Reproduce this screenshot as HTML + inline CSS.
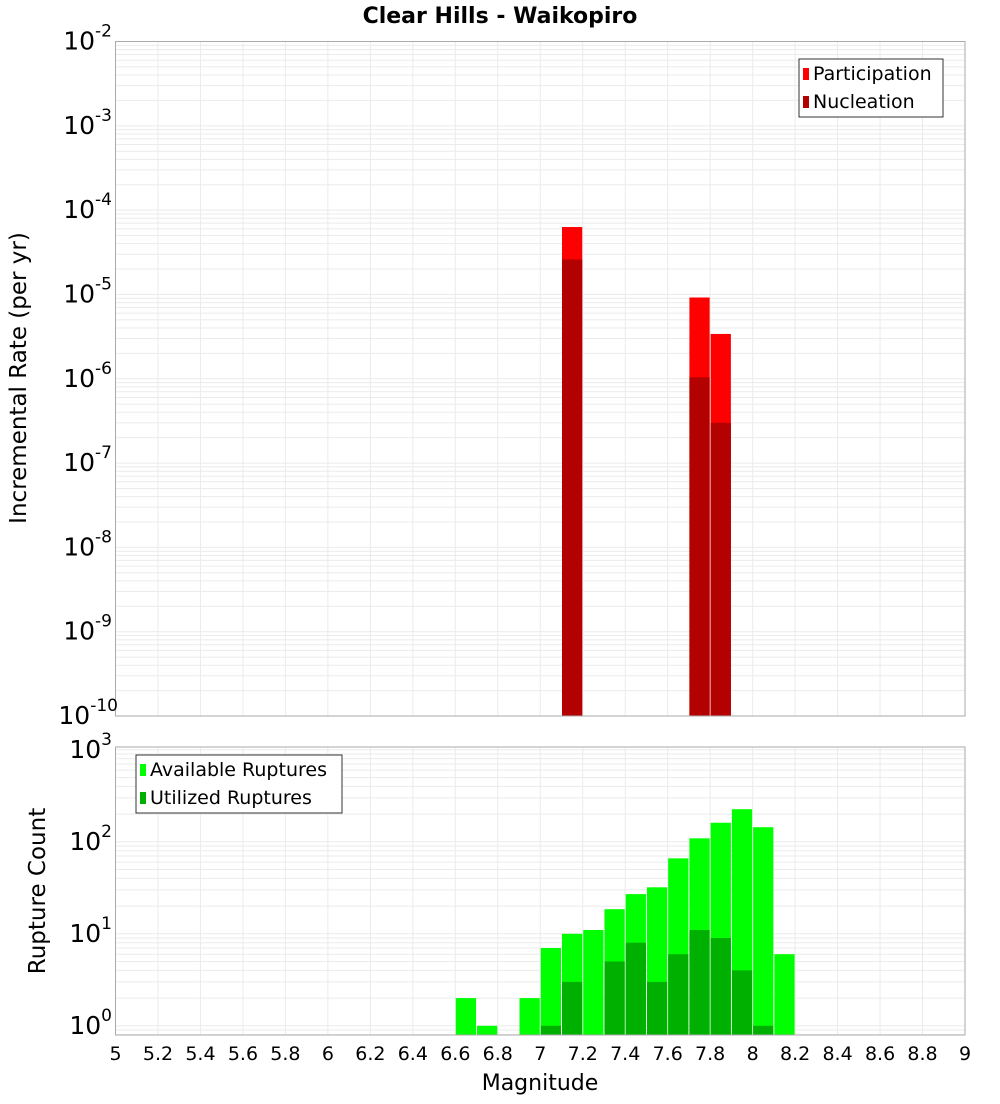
<!DOCTYPE html>
<html><head><meta charset="utf-8"><style>
body{margin:0;background:#fff;font-family:"DejaVu Sans","Liberation Sans",sans-serif}
</style></head><body>
<svg id="c" width="1000" height="1100" xmlns="http://www.w3.org/2000/svg" font-family="DejaVu Sans, Liberation Sans, sans-serif">
<text x="500" y="23" text-anchor="middle" font-size="22" font-weight="bold">Clear Hills - Waikopiro</text>
<text transform="translate(26,378) rotate(-90)" text-anchor="middle" font-size="23">Incremental Rate (per yr)</text>
<text transform="translate(45,891) rotate(-90)" text-anchor="middle" font-size="23">Rupture Count</text>
<text x="540" y="1090" text-anchor="middle" font-size="22">Magnitude</text>
<g id="top"></g><g id="bot"></g>
</svg>
<script>
const partMags=[7.15,7.75,7.85];
const partVals=[6.3e-5,9.2e-6,3.4e-6];
const nuclMags=[7.15,7.75,7.85];
const nuclVals=[2.6e-5,1.04e-6,3.0e-7];
const availMags=[6.65,6.75,6.95,7.05,7.15,7.25,7.35,7.45,7.55,7.65,7.75,7.85,7.95,8.05,8.15];
const availVals=[2,1,2,7,10,11,18.5,27,32,66,109,161,226,144,6];
const utilMags=[7.05,7.15,7.35,7.45,7.55,7.65,7.75,7.85,7.95,8.05];
const utilVals=[1,3,5,8,3,6,11,9,4,1];
const xTicks=["5","5.2","5.4","5.6","5.8","6","6.2","6.4","6.6","6.8","7","7.2","7.4","7.6","7.8","8","8.2","8.4","8.6","8.8","9"];
const NS="http://www.w3.org/2000/svg";
const L=115.5,R=965;
const xs=m=>L+(m-5)/4*(R-L);
function el(p,t,a){const e=document.createElementNS(NS,t);for(const k in a)e.setAttribute(k,a[k]);p.appendChild(e);return e;}
function panel(g,top,bot,lmin,lmax,name){
  const ys=v=>bot-(Math.log10(v)-lmin)/(lmax-lmin)*(bot-top);
  for(let i=0;i<=20;i++){const x=xs(5+i*0.2);const l=el(g,'line',{x1:x,x2:x,y1:top,y2:bot,stroke:'#ebebeb'});
    }
  for(let d=Math.floor(lmin);d<=Math.ceil(lmax);d++)for(let k=1;k<10;k++){const v=k*Math.pow(10,d);const lv=Math.log10(v);
    if(lv<lmin||lv>lmax)continue;const y=ys(v);const l=el(g,'line',{x1:L,x2:R,y1:y,y2:y,stroke:'#ebebeb'});
    }
  return ys;
}
function bars(g,ys,bot,mags,vals,fill,name){
  mags.forEach((m,i)=>{const x0=xs(m-0.05)+0.5,x1=xs(m+0.05)-0.5,y=ys(vals[i]);
    const r=el(g,'rect',{x:x0,y:y,width:x1-x0,height:bot-y,fill:fill});
    });
}
function frame(g,top,bot,name){const r=el(g,'rect',{x:L,y:top,width:R-L,height:bot-top,fill:'none',stroke:'#aaa'});
  }
function ylabels(g,ys,lmin,lmax,name){
  for(let d=Math.ceil(lmin);d<=Math.floor(lmax);d++){const y=ys(Math.pow(10,d));
    const t=el(g,'text',{x:d<-9?118:112,y:y+8,'text-anchor':'end','font-size':'25'});
    
    t.textContent='10';const s=el(t,'tspan',{dy:'-13','font-size':'17'});s.textContent=String(d);}
}
function legend(g,x,y,w,items,name){
  const b=el(g,'rect',{x:x,y:y,width:w,height:58,fill:'#fff',stroke:'#333'});
  
  items.forEach((it,i)=>{const r=el(g,'rect',{x:x+4,y:y+9+i*28,width:6,height:12,fill:it[1]});
    
    const t=el(g,'text',{x:x+14,y:y+21+i*28,'font-size':'19'});
    t.textContent=it[0];});
}
const gt=document.getElementById('top');
const ysT=panel(gt,41.5,716,-10,-2,'top');
bars(gt,ysT,716,partMags,partVals,'#ff0000','participation-bar');
bars(gt,ysT,716,nuclMags,nuclVals,'#b30000','nucleation-bar');
frame(gt,41.5,716,'top');ylabels(gt,ysT,-10,-2,'top');
legend(gt,799,59,144,[['Participation','#ff0000'],['Nucleation','#b30000']],'top-legend');
const gb=document.getElementById('bot');
const ysB=panel(gb,747,1035,-0.1,3.03,'bottom');
bars(gb,ysB,1035,availMags,availVals,'#00ff00','available-bar');
bars(gb,ysB,1035,utilMags,utilVals,'#00b000','utilized-bar');
frame(gb,747,1035,'bottom');ylabels(gb,ysB,-0.1,3.03,'bottom');
legend(gb,136,755,206,[['Available Ruptures','#00ff00'],['Utilized Ruptures','#00b000']],'bottom-legend');
xTicks.forEach(t=>{const e=el(gb,'text',{x:xs(parseFloat(t)),y:1060,'text-anchor':'middle','font-size':'19'});
  e.textContent=t;});
</script>
</body></html>
